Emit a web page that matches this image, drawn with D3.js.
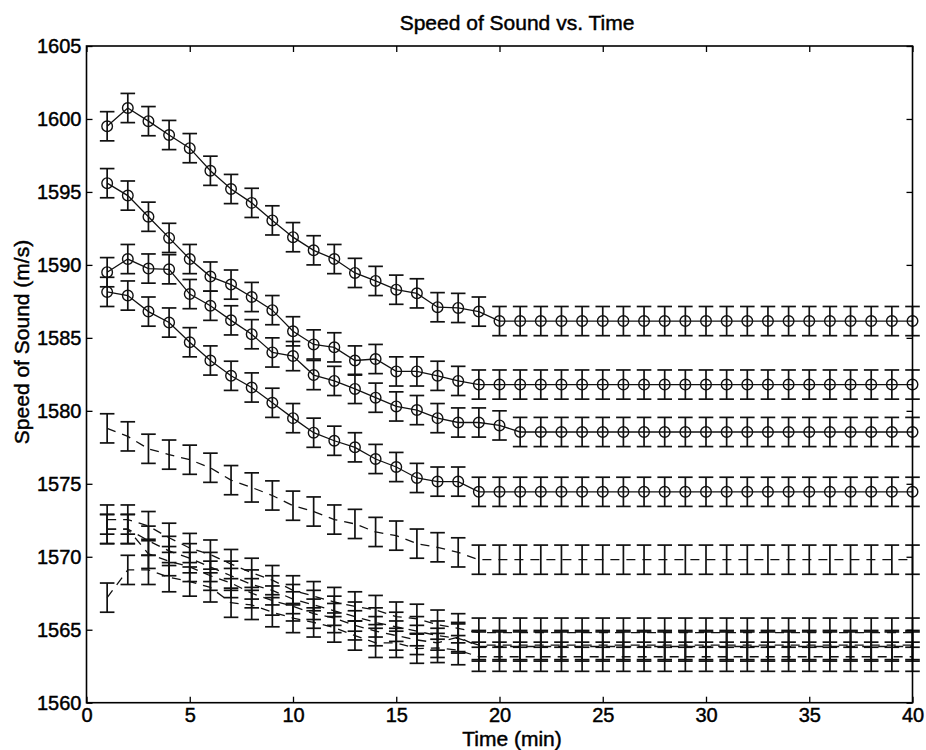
<!DOCTYPE html>
<html><head><meta charset="utf-8">
<script src="https://cdn.jsdelivr.net/npm/d3@7/dist/d3.min.js"></script>
<style>
body{margin:0;background:#fff}
text{font-family:"Liberation Sans",Arial,Helvetica,sans-serif;fill:#000;stroke:#000;stroke-width:0.45px}
</style>
</head><body>
<svg id="chart" width="926" height="750"></svg>
<script>
// ---------- data ----------
const times = [1,2,3,4,5,6,7,8,9,10,11,12,13,14,15,16,17,18,19,20,21,22,23,24,25,26,27,28,29,30,31,32,33,34,35,36,37,38,39,40];

// series with circle markers, solid line
const seriesA = [1599.5,1600.75,1599.85,1598.9,1598.0,1596.45,1595.2,1594.25,1593.05,1591.9,1591.0,1590.4,1589.45,1588.9,1588.3,1588.05,1587.1,1587.05,1586.8,
  1586.15,1586.15,1586.15,1586.15,1586.15,1586.15,1586.15,1586.15,1586.15,1586.15,1586.15,1586.15,1586.15,1586.15,1586.15,1586.15,1586.15,1586.15,1586.15,1586.15,1586.15];
const seriesB = [1595.6,1594.75,1593.3,1591.85,1590.4,1589.2,1588.65,1587.8,1586.9,1585.45,1584.55,1584.35,1583.45,1583.55,1582.7,1582.7,1582.4,1582.05,
  1581.8,1581.8,1581.8,1581.8,1581.8,1581.8,1581.8,1581.8,1581.8,1581.8,1581.8,1581.8,1581.8,1581.8,1581.8,1581.8,1581.8,1581.8,1581.8,1581.8,1581.8,1581.8];
const seriesC = [1589.5,1590.4,1589.75,1589.7,1588.0,1587.2,1586.2,1585.25,1584.0,1583.75,1582.45,1582.05,1581.5,1580.9,1580.3,1580.05,1579.5,1579.2,1579.2,1579.0,
  1578.55,1578.55,1578.55,1578.55,1578.55,1578.55,1578.55,1578.55,1578.55,1578.55,1578.55,1578.55,1578.55,1578.55,1578.55,1578.55,1578.55,1578.55,1578.55,1578.55];
const seriesD = [1588.15,1587.9,1586.8,1586.05,1584.7,1583.45,1582.4,1581.6,1580.55,1579.5,1578.5,1577.95,1577.5,1576.7,1576.15,1575.4,1575.15,1575.15,
  1574.45,1574.45,1574.45,1574.45,1574.45,1574.45,1574.45,1574.45,1574.45,1574.45,1574.45,1574.45,1574.45,1574.45,1574.45,1574.45,1574.45,1574.45,1574.45,1574.45,1574.45,1574.45];

// series drawn with dashed lines, no circles
const seriesE = [1578.8,1578.25,1577.4,1577.0,1576.65,1576.1,1575.25,1574.75,1574.2,1573.5,1573.1,1572.55,1572.25,1571.7,1571.45,1570.9,1570.65,1570.3,
  1569.8,1569.8,1569.8,1569.8,1569.8,1569.8,1569.8,1569.8,1569.8,1569.8,1569.8,1569.8,1569.8,1569.8,1569.8,1569.8,1569.8,1569.8,1569.8,1569.8,1569.8,1569.8];
const seriesF = [1572.55,1572.55,1572.1,1571.3,1570.6,1570.15,1569.5,1568.9,1568.4,1567.7,1567.3,1566.9,1566.6,1566.35,1565.9,1565.75,1565.35,1565.1,
  1564.8,1564.8,1564.8,1564.8,1564.8,1564.8,1564.8,1564.8,1564.8,1564.8,1564.8,1564.8,1564.8,1564.8,1564.8,1564.8,1564.8,1564.8,1564.8,1564.8,1564.8,1564.8];
const seriesG = [1571.9,1571.9,1571.1,1570.4,1569.9,1569.3,1568.7,1568.1,1567.7,1567.1,1566.7,1566.3,1565.9,1565.5,1565.2,1564.9,1564.6,1564.4,
  1563.95,1563.95,1563.95,1563.95,1563.95,1563.95,1563.95,1563.95,1563.95,1563.95,1563.95,1563.95,1563.95,1563.95,1563.95,1563.95,1563.95,1563.95,1563.95,1563.95,1563.95,1563.95];
const seriesJ = [1571.9,1571.9,1570.2,1569.7,1569.3,1568.7,1568.2,1567.5,1567.0,1566.6,1566.1,1565.8,1565.3,1564.9,1564.6,1564.3,1564.1,1564.5,
  1563.85,1563.85,1563.85,1563.85,1563.85,1563.85,1563.85,1563.85,1563.85,1563.85,1563.85,1563.85,1563.85,1563.85,1563.85,1563.85,1563.85,1563.85,1563.85,1563.85,1563.85,1563.85];
const seriesH = [1567.2,1569.1,1569.1,1568.6,1568.3,1567.9,1566.85,1566.7,1566.2,1565.8,1565.5,1565.15,1564.6,1564.1,1564.1,1563.7,1563.75,1563.6,
  1563.15,1563.15,1563.15,1563.15,1563.15,1563.15,1563.15,1563.15,1563.15,1563.15,1563.15,1563.15,1563.15,1563.15,1563.15,1563.15,1563.15,1563.15,1563.15,1563.15,1563.15,1563.15];

const circleSeries = [seriesA, seriesB, seriesC, seriesD];
const dashedSeries = [seriesE, seriesF, seriesG, seriesJ, seriesH];
const errorHalfWidth = [1.0, 1.0, 1.0, 1.0, 1.0, 1.0, 1.0, 1.0, 1.0]; // +/- m/s, A..D then E..H

const xTicks = [0,5,10,15,20,25,30,35,40];
const yTicks = [1560,1565,1570,1575,1580,1585,1590,1595,1600,1605];
const titleText = "Speed of Sound vs. Time";
const xLabel = "Time (min)";
const yLabel = "Speed of Sound (m/s)";

// ---------- layout ----------
const L = 86.5, R = 912.5, T = 46, B = 702.7;
const svg = d3.select("#chart");
const x = d3.scaleLinear().domain([0,40]).range([L,R]);
const y = d3.scaleLinear().domain([1560,1605]).range([B,T]);
const capHalf = 7.3;

const gPlot = svg.append("g");

function drawSeries(vals, err, dashed, markers){
  const pts = times.map((t,i)=>({t, v: vals[i]}));
  const line = d3.line().x(d=>x(d.t)).y(d=>y(d.v));
  gPlot.append("path").datum(pts)
    .attr("d", line).attr("fill","none").attr("stroke","#111")
    .attr("stroke-width", 1.3)
    .attr("stroke-dasharray", dashed ? "9,7" : null);
  const eb = gPlot.append("g").attr("stroke","#111").attr("stroke-width",1.7).attr("fill","none");
  pts.forEach(d=>{
    const cx = x(d.t), y0 = y(d.v-err), y1 = y(d.v+err);
    eb.append("line").attr("x1",cx).attr("x2",cx).attr("y1",y0).attr("y2",y1);
    eb.append("line").attr("x1",cx-capHalf).attr("x2",cx+capHalf).attr("y1",y0).attr("y2",y0);
    eb.append("line").attr("x1",cx-capHalf).attr("x2",cx+capHalf).attr("y1",y1).attr("y2",y1);
  });
  if (markers){
    gPlot.append("g").selectAll("circle").data(pts).join("circle")
      .attr("cx",d=>x(d.t)).attr("cy",d=>y(d.v)).attr("r",5.3)
      .attr("fill","none").attr("stroke","#111").attr("stroke-width",1.4);
  }
}
dashedSeries.forEach((s,i)=>drawSeries(s, errorHalfWidth[4+i], true, false));
circleSeries.forEach((s,i)=>drawSeries(s, errorHalfWidth[i], false, true));

// ---------- axes ----------
const tickLen = 6;
const fs = "20px";
const fmt = d3.format("d");
const axL = svg.append("g").attr("transform",`translate(${L},0)`)
  .call(d3.axisLeft(y).tickValues(yTicks).tickFormat(fmt).tickSizeInner(-tickLen).tickSizeOuter(0).tickPadding(5));
const axB = svg.append("g").attr("transform",`translate(0,${B})`)
  .call(d3.axisBottom(x).tickValues(xTicks).tickFormat(fmt).tickSizeInner(-tickLen).tickSizeOuter(0).tickPadding(5));
const axR = svg.append("g").attr("transform",`translate(${R},0)`)
  .call(d3.axisRight(y).tickValues(yTicks).tickSizeInner(-tickLen).tickSizeOuter(0).tickFormat(""));
const axT = svg.append("g").attr("transform",`translate(0,${T})`)
  .call(d3.axisTop(x).tickValues(xTicks).tickSizeInner(-tickLen).tickSizeOuter(0).tickFormat(""));
[axL,axB,axR,axT].forEach(a=>{
  a.select(".domain").remove();
  a.selectAll(".tick line").attr("stroke","#000").attr("stroke-width",1.3);
  a.selectAll("text").attr("font-size",fs).attr("font-family",null).attr("fill","#000");
});
svg.append("rect").attr("x",L).attr("y",T).attr("width",R-L).attr("height",B-T)
  .attr("fill","none").attr("stroke","#000").attr("stroke-width",1.6);

// ---------- labels ----------
svg.append("text").attr("x",517).attr("y",30).attr("text-anchor","middle")
  .attr("font-size","21px").text(titleText);
svg.append("text").attr("x",512).attr("y",746).attr("text-anchor","middle")
  .attr("font-size","21px").text(xLabel);
svg.append("text").attr("transform","translate(29,342) rotate(-90)").attr("text-anchor","middle")
  .attr("font-size","21px").text(yLabel);
</script>
</body></html>
